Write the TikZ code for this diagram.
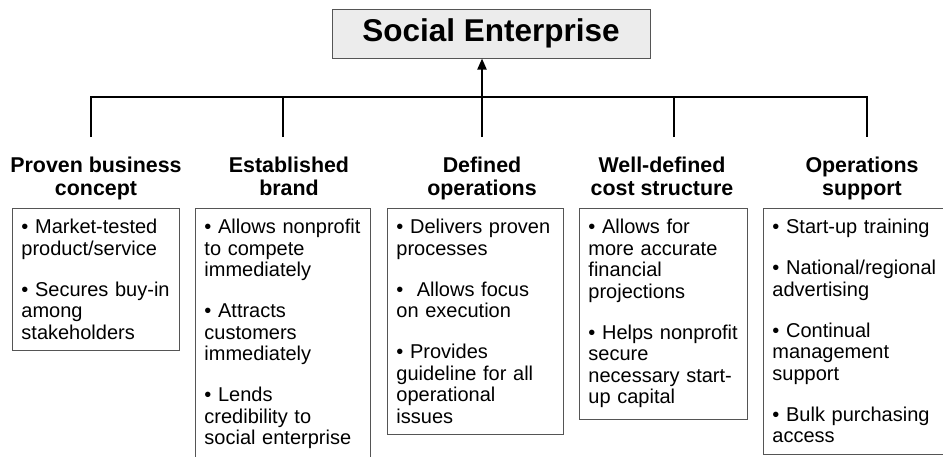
\documentclass[tikz,border=0pt]{standalone}
\usepackage{fontspec}
\setmainfont{Liberation Sans}
\usepackage{tikz}
\usetikzlibrary{arrows.meta, positioning}
\definecolor{framegray}{RGB}{85, 85, 85}
\definecolor{titlefill}{RGB}{236, 236, 236}
\tikzstyle{titlebox} = [draw=framegray, fill=titlefill, line width=1pt, minimum width=318pt, minimum height=49pt, font=\fontsize{31.5}{34}\selectfont\bfseries]
\tikzstyle{heading} = [align=center, anchor=north, inner sep=0pt, font=\fontsize{21.4}{23}\selectfont\bfseries]
\tikzstyle{card} = [draw=framegray, line width=0.9pt, anchor=north west, align=left, inner xsep=9pt, inner ysep=11pt, font=\fontsize{20}{21.5}\selectfont]
\tikzstyle{link} = [line width=2pt]
\tikzstyle{arrow} = [-{Triangle[length=11pt, width=9pt]}, line width=2pt]

\begin{document}
\begin{tikzpicture}[x=1pt, y=-1pt]
    \clip (0,0) rectangle (943,456);

    % Top node
    \node[titlebox] (enterprise) at (491,33.5) {Social Enterprise};

    % Branch ends
    \foreach \x [count=\i] in {91,283,482,674,867}
        \coordinate (t\i) at (\x,137);
    \coordinate (bar) at (0,97);

    % Tree
    \draw[link] (t1) -- (t1 |- bar) -- (t5 |- bar) -- (t5);
    \foreach \i in {2,4}
        \draw[link] (t\i) -- (t\i |- bar);
    \draw[arrow] (t3) -- (t3 |- enterprise.south);

    % Headings
    \foreach \x/\label [count=\i] in {96/{Proven business\\concept}, 289/{Established\\brand}, 482/{Defined\\operations}, 662/{Well-defined\\cost structure}, 862/{Operations\\support}}
        \node[heading] (head\i) at (\x,157) {\label};

    % Benefit lists
    \node[card, text width=149pt] (card1) at (12,208) {
        • Market-tested\\ product/service\\[19.5pt]
        • Secures buy-in\\ among\\ stakeholders};
    \node[card, text width=157pt] (card2) at (195,208) {
        • Allows~nonprofit\\ to compete\\ immediately\\[19.5pt]
        • Attracts\\ customers\\ immediately\\[19.5pt]
        • Lends\\ credibility to\\ social enterprise};
    \node[card, text width=158pt] (card3) at (387,208) {
        • Delivers~proven\\ processes\\[19.5pt]
        •~~Allows focus\\ on execution\\[19.5pt]
        • Provides\\ guideline for all\\ operational\\ issues};
    \node[card, text width=150pt] (card4) at (579,208) {
        • Allows for\\ more accurate\\ financial\\ projections\\[19.5pt]
        • Helps~nonprofit\\ secure\\ necessary~start-\\ up capital};
    \node[card, text width=169pt] (card5) at (763,208) {
        • Start-up training\\[19.5pt]
        • National/regional\\ advertising\\[19.5pt]
        • Continual\\ management\\ support\\[19.5pt]
        • Bulk purchasing\\ access};
\end{tikzpicture}
\end{document}
